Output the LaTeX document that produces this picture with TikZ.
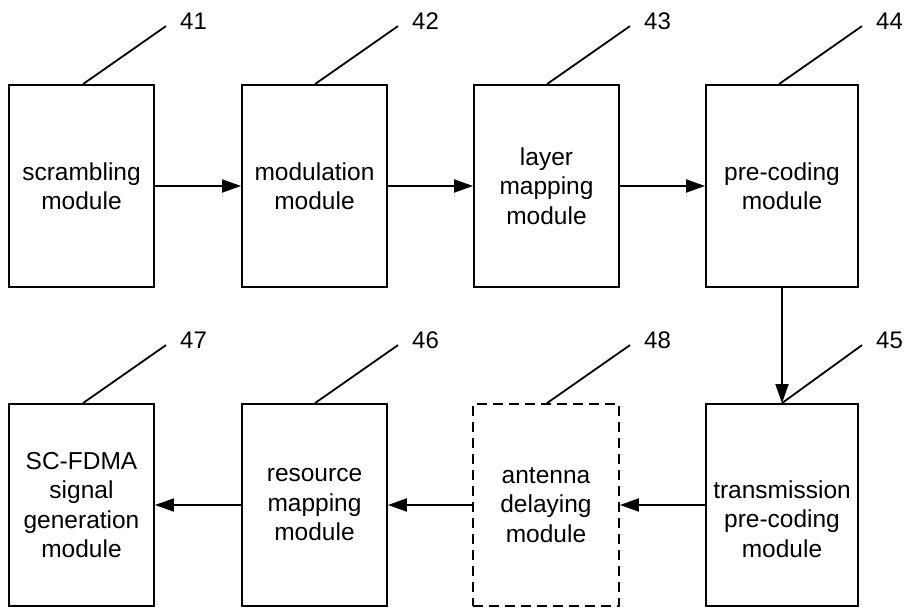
\documentclass[tikz,border=0pt]{standalone}
\usepackage{fontspec}
\setmainfont{Liberation Sans}
\usetikzlibrary{arrows.meta}
\begin{document}
\begin{tikzpicture}[x=1pt,y=-1pt,
  box/.style={draw, line width=1.8pt, minimum width=145pt, minimum height=202pt, inner sep=0pt, align=center, font=\fontsize{24.5}{29.5}\selectfont},
  wbox/.style={box, minimum width=152pt},
  dbox/.style={box, dash pattern=on 10pt off 6pt},
  txt/.style={align=center, inner sep=0pt, font=\fontsize{24.5}{29.5}\selectfont},
  flow/.style={line width=1.8pt, -{Triangle[length=19pt,width=13pt]}},
  leader/.style={line width=1.8pt},
  num/.style={anchor=west, inner sep=0pt, font=\fontsize{24}{28}\selectfont}]
\useasboundingbox (0,0) rectangle (909,608);
% top row
\node[box]  (b41) at (81.5,186) {scrambling\\module};
\node[box]  (b42) at (314.5,186) {modulation\\module};
\node[box]  (b43) at (546.5,186) {layer\\mapping\\module};
\node[wbox] (b44) at (782,186) {pre-coding\\module};
% bottom row
\node[box]  (b47) at (81.5,505) {SC-FDMA\\signal\\generation\\module};
\node[box]  (b46) at (314.5,505) {resource\\mapping\\module};
\node[dbox, minimum width=146pt] (b48) at (546,505) {antenna\\delaying\\module};
\node[wbox] (b45) at (782,505) {};
\node[txt] (t45) at ([yshift=-14pt]b45.center) {transmission\\pre-coding\\module};
% flow arrows
\draw[flow] (b41.east) -- (b42.west);
\draw[flow] (b42.east) -- (b43.west);
\draw[flow] (b43.east) -- (b44.west);
\draw[flow] (b44.south) -- (b45.north);
\draw[flow] (b45.west) -- (b48.east);
\draw[flow] (b48.west) -- (b46.east);
\draw[flow] (b46.west) -- (b47.east);
% leaders
\draw[leader] ([xshift=1.5pt]b41.north) -- ++(83,-58) coordinate (c41);
\draw[leader] ([xshift=0.5pt]b42.north) -- ++(83,-58) coordinate (c42);
\draw[leader] ([xshift=0.5pt]b43.north) -- ++(83,-58) coordinate (c43);
\draw[leader] ([xshift=-3pt]b44.north) -- ++(83,-58) coordinate (c44);
\draw[leader] ([xshift=1.5pt]b47.north) -- ++(83,-58) coordinate (c47);
\draw[leader] ([xshift=0.5pt]b46.north) -- ++(83,-58) coordinate (c46);
\draw[leader] ([xshift=1pt]b48.north) -- ++(83,-58) coordinate (c48);
\draw[leader] (b45.north) -- ++(80,-58) coordinate (c45);
\node[num] (n41) at ([shift={(14,-5)}]c41) {41};
\node[num] (n42) at ([shift={(14,-5)}]c42) {42};
\node[num] (n43) at ([shift={(14,-5)}]c43) {43};
\node[num] (n44) at ([shift={(14,-5)}]c44) {44};
\node[num] (n47) at ([shift={(14,-5)}]c47) {47};
\node[num] (n46) at ([shift={(14,-5)}]c46) {46};
\node[num] (n48) at ([shift={(14,-5)}]c48) {48};
\node[num] (n45) at ([shift={(14,-5)}]c45) {45};
\end{tikzpicture}
\end{document}
